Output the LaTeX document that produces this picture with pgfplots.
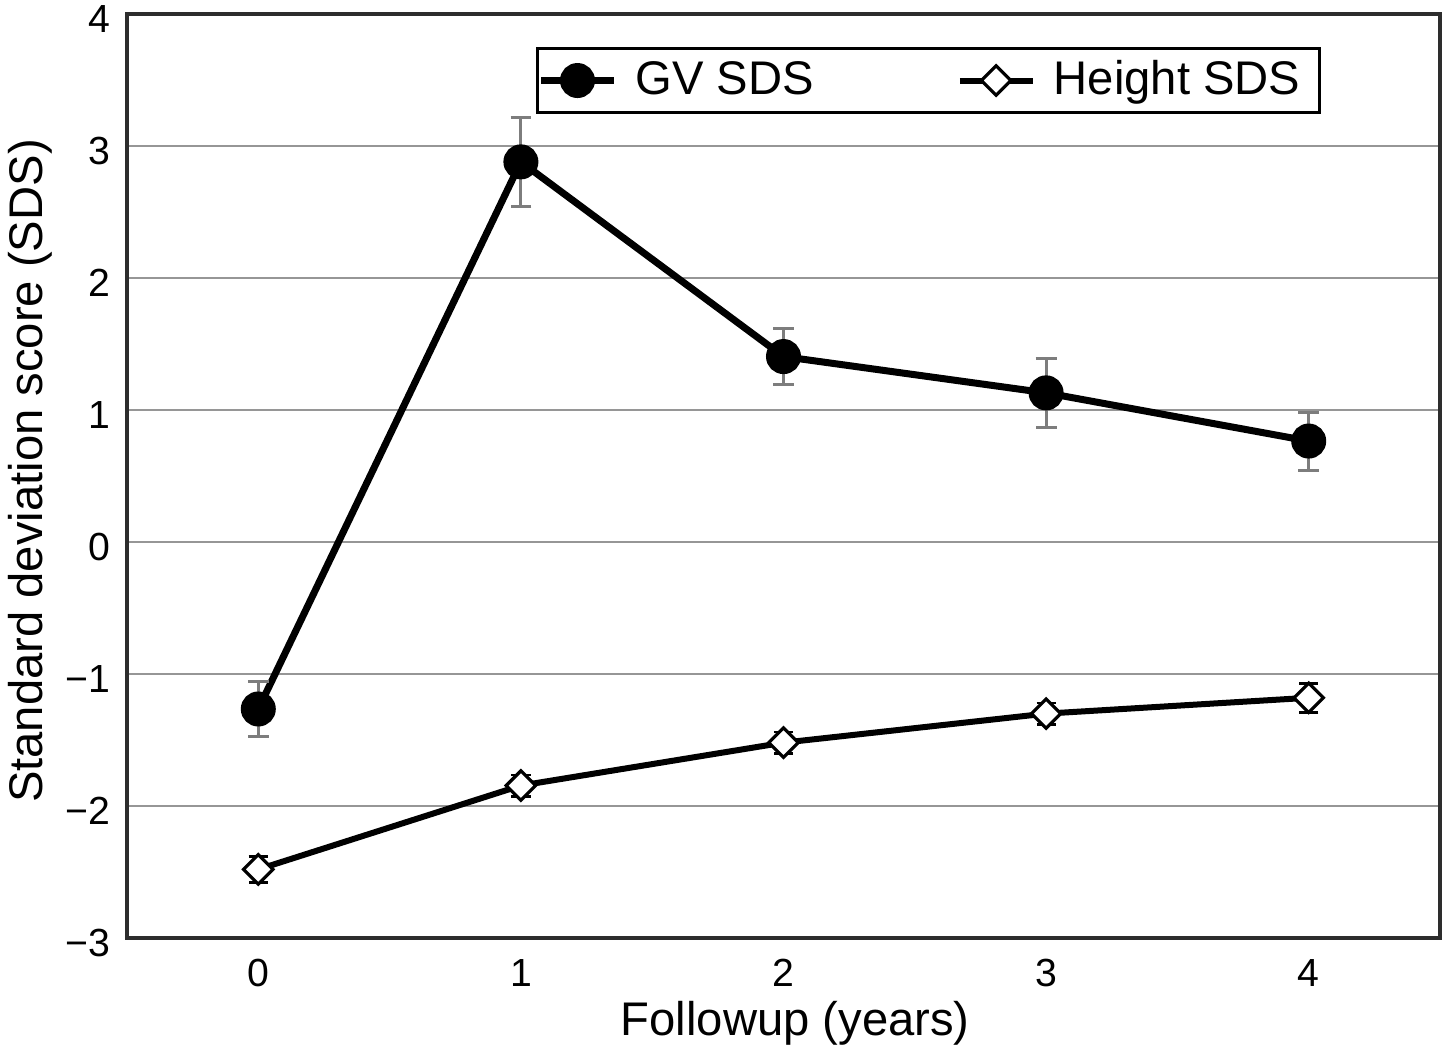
\documentclass[border=0pt]{standalone}
\usepackage{fontspec}
\setmainfont{Liberation Sans}
\usepackage{pgfplots}
\pgfplotsset{compat=1.18}

\definecolor{gridgray}{RGB}{150,150,150}
\definecolor{errgray}{RGB}{125,125,125}
\definecolor{axisgray}{RGB}{45,45,45}

\pgfplotstableread{
x y e
0 -1.265 0.21
1 2.88 0.335
2 1.405 0.215
3 1.13 0.26
4 0.765 0.22
}\gvdata

\pgfplotstableread{
x y e
0 -2.48 0.10
1 -1.845 0.08
2 -1.52 0.08
3 -1.30 0.08
4 -1.18 0.11
}\htdata

\begin{document}
\begin{tikzpicture}
\path[use as bounding box] (-31.75pt,-30.75pt) rectangle (328.75pt,234.5pt);
\begin{axis}[
  at={(0pt,0pt)}, anchor=south west,
  scale only axis, width=328.25pt, height=231pt,
  xmin=-0.5, xmax=4.5, ymin=-3, ymax=4,
  xtick={0,1,2,3,4}, ytick={-3,-2,-1,0,1,2,3,4},
  xticklabels={0,1,2,3,4},
  yticklabels={{−3},{−2},{−1},0,1,2,3,4},
  major tick length=0pt,
  ymajorgrids, grid style={gridgray, line width=0.6pt},
  axis line style={axisgray, line width=0.8pt},
  tick label style={font=\fontsize{9.8}{11}\selectfont, text=black},
  xticklabel style={yshift=-1.75pt},
  yticklabel style={xshift=-0.75pt, yshift=-1.2pt},
  xlabel={Followup (years)},
  ylabel={Standard deviation score (SDS)},
  label style={font=\fontsize{11.8}{13}\selectfont},
  xlabel style={at={(axis description cs:0.509,0)}, anchor=base, yshift=-24.25pt},
  ylabel style={at={(axis description cs:0,0.5054)}, anchor=base, yshift=21pt},
  legend columns=2,
  legend image code/.code={\draw[mark repeat=2,mark phase=2,#1] plot coordinates {(0pt,0pt) (9.1pt,0pt) (18.25pt,0pt)};},
  legend style={at={(rel axis cs:0.3115,0.9643)}, anchor=north west,
    draw=black, line width=0.8pt, inner xsep=0pt, inner ysep=1.25pt,
    font=\fontsize{11.8}{13}\selectfont,
    nodes={inner sep=1.7pt},
    /tikz/every odd column/.append style={column sep=2.8pt},
    /tikz/every even column/.append style={column sep=34pt}},
]
\addplot[black, line width=1.75pt, mark=*, mark size=3.5pt,
  mark options={solid},
  error bars/.cd, y dir=both, y explicit,
  error bar style={errgray, line width=0.75pt},
  error mark options={rotate=90, mark size=2.6pt, errgray, line width=0.75pt}]
  table[x=x, y=y, y error=e] {\gvdata};
\addlegendentry{GV SDS}
\addplot[black, line width=1.5pt, mark=square*, mark size=2.6pt,
  mark options={solid, rotate=45, fill=white, line width=0.8pt},
  error bars/.cd, y dir=both, y explicit,
  error bar style={black, line width=0.7pt},
  error mark options={rotate=90, mark size=2.4pt, black, line width=0.7pt}]
  table[x=x, y=y, y error=e] {\htdata};
\addlegendentry{Height SDS\kern3pt}
\end{axis}
\end{tikzpicture}
\end{document}
